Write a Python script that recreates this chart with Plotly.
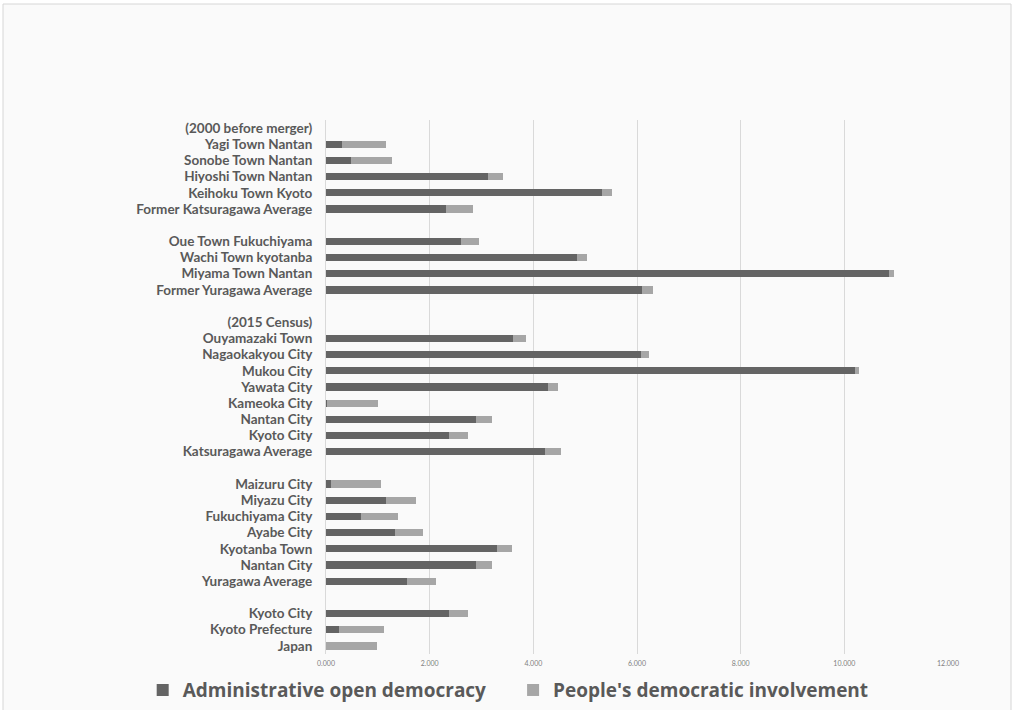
import plotly.graph_objects as go

# Row labels, top to bottom ("" = spacer row, header rows carry no bar)
labels = [
    "(2000 before merger)",
    "Yagi Town Nantan",
    "Sonobe Town Nantan",
    "Hiyoshi Town Nantan",
    "Keihoku Town Kyoto",
    "Former Katsuragawa Average",
    "",
    "Oue Town Fukuchiyama",
    "Wachi Town kyotanba",
    "Miyama Town Nantan",
    "Former Yuragawa Average",
    "",
    "(2015 Census)",
    "Ouyamazaki Town",
    "Nagaokakyou City",
    "Mukou City",
    "Yawata City",
    "Kameoka City",
    "Nantan City",
    "Kyoto City",
    "Katsuragawa Average",
    "",
    "Maizuru City",
    "Miyazu City",
    "Fukuchiyama City",
    "Ayabe City",
    "Kyotanba Town",
    "Nantan City",
    "Yuragawa Average",
    "",
    "Kyoto City",
    "Kyoto Prefecture",
    "Japan",
]

administrative_open = [
    None, 0.30, 0.48, 3.13, 5.32, 2.32,
    None, 2.61, 4.85, 10.86, 6.09,
    None, None, 3.60, 6.07, 10.20, 4.28, 0.02, 2.89, 2.37, 4.22,
    None, 0.10, 1.16, 0.68, 1.34, 3.30, 2.89, 1.56,
    None, 2.37, 0.26, 0.00,
]

peoples_involvement = [
    None, 0.86, 0.79, 0.28, 0.19, 0.52,
    None, 0.34, 0.19, 0.09, 0.22,
    None, None, 0.25, 0.16, 0.08, 0.20, 0.99, 0.31, 0.37, 0.32,
    None, 0.96, 0.58, 0.71, 0.53, 0.28, 0.31, 0.56,
    None, 0.37, 0.85, 0.98,
]

x_ticks = [0, 2, 4, 6, 8, 10, 12]

rows = list(range(len(labels)))
shown = [i for i, t in enumerate(labels) if t]

DARK = "#646464"
LIGHT = "#a6a6a6"
TEXT = "#595959"

fig = go.Figure()
fig.add_trace(go.Bar(
    y=rows, x=administrative_open, orientation="h",
    name="Administrative open democracy",
    marker=dict(color=DARK, line=dict(width=0)),
    width=0.45, legend="legend",
))
fig.add_trace(go.Bar(
    y=rows, x=peoples_involvement, orientation="h",
    name="People's democratic involvement",
    marker=dict(color=LIGHT, line=dict(width=0)),
    width=0.45, legend="legend2",
))

L, R, T, B = 326, 64, 120, 56
W, H = 1012, 710
pw, ph = W - L - R, H - T - B

# light panel with a thin grey frame behind everything
fig.add_shape(
    type="rect", xref="paper", yref="paper", layer="below",
    x0=(3 - L) / pw, x1=(1011 - L) / pw,
    y0=(H - B - 716) / ph, y1=(H - B - 4) / ph,
    fillcolor="#fafafa", line=dict(color="#d6d6d6", width=1),
)

legend_style = dict(
    orientation="h", xref="container", yref="container",
    xanchor="left", y=0.028, yanchor="middle",
    font=dict(size=19, color=TEXT, family="Open Sans", weight="bold"),
    itemwidth=30, bgcolor="rgba(0,0,0,0)",
)

fig.update_layout(
    width=W, height=H,
    margin=dict(l=L, r=R, t=T, b=B, pad=0, autoexpand=False),
    barmode="stack",
    paper_bgcolor="white",
    plot_bgcolor="rgba(0,0,0,0)",
    font=dict(family="Lato", color=TEXT),
    showlegend=True,
    legend=dict(x=0.141, **legend_style),
    legend2=dict(x=0.507, **legend_style),
    xaxis=dict(
        range=[0, 12], tickvals=x_ticks, tickformat=".3f",
        showgrid=True, gridcolor="#d9d9d9", gridwidth=1,
        zeroline=False, showline=False,
        tickfont=dict(size=7, color="#7f7f7f"),
        ticks="", ticklabelstandoff=4,
    ),
    yaxis=dict(
        range=[len(labels) - 0.5, -0.5],
        tickvals=shown, ticktext=[labels[i] for i in shown],
        showgrid=False, zeroline=False,
        showline=True, linecolor="#d9d9d9", linewidth=1,
        tickfont=dict(size=13.5, color=TEXT, family="Lato", weight="bold"),
        ticks="", ticklabelstandoff=10,
    ),
)

fig.write_html("out.html")
